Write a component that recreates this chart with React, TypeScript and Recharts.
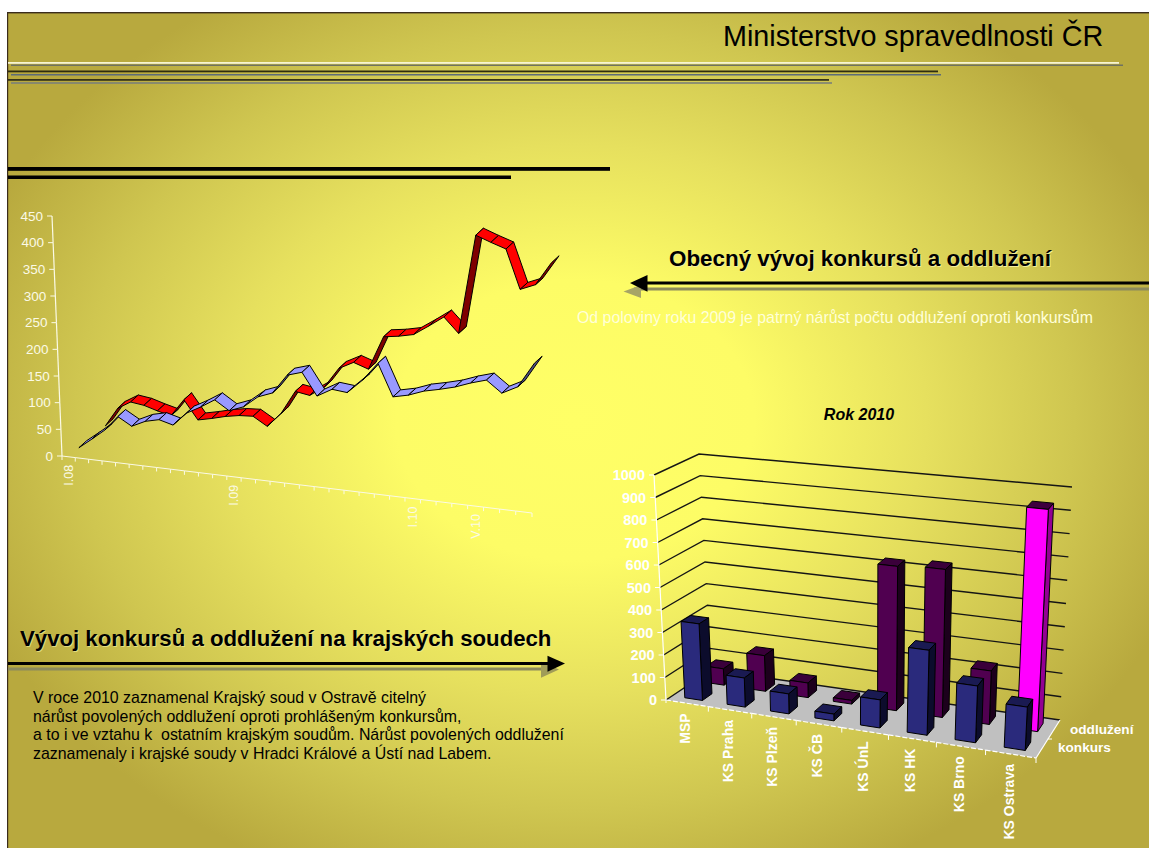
import { BarChart, Bar, Cell, LineChart, Line, XAxis, YAxis, CartesianGrid } from "recharts";

const months = [
  "I.08", "II.08", "III.08", "IV.08", "V.08", "VI.08", "VII.08", "VIII.08", "IX.08", "X.08", "XI.08", "XII.08",
  "I.09", "II.09", "III.09", "IV.09", "V.09", "VI.09", "VII.09", "VIII.09", "IX.09", "X.09", "XI.09", "XII.09",
  "I.10", "II.10", "III.10", "IV.10", "V.10", "VI.10", "VII.10", "VIII.10",
];
const shownMonths = ["I.08", "I.09", "I.10", "V.10"];
const konkursMonthly = [
  2, 21, 41, 69, 54, 66, 72, 65, 90, 104, 120, 103, 113, 134, 144, 179,
  187, 147, 162, 159, 184, 217, 160, 166, 176, 182, 189, 199, 207, 187, 201, 245,
];
const oddluzeniMonthly = [
  2, 38, 53, 50, 43, 37, 70, 36, 42, 49, 54, 56, 41, 68, 111, 107,
  125, 162, 176, 167, 228, 232, 238, 256, 275, 249, 425, 415, 406, 338, 349, 390,
];
const lineTicks = [0, 50, 100, 150, 200, 250, 300, 350, 400, 450];

const courts = ["MSP", "KS Praha", "KS Plzeň", "KS ČB", "KS ÚnL", "KS HK", "KS Brno", "KS Ostrava"];
const konkurs2010 = [340, 128, 87, 29, 120, 360, 238, 180];
const oddluzeni2010 = [74, 160, 65, 16, 630, 640, 229, 942];
const barTicks = [0, 100, 200, 300, 400, 500, 600, 700, 800, 900, 1000];

const monthlyData = months.map((month, i) => ({
  month,
  konkurs: konkursMonthly[i],
  oddluzeni: oddluzeniMonthly[i],
}));
const courtData = courts.map((court, i) => ({
  court,
  konkurs: konkurs2010[i],
  oddluzeni: oddluzeni2010[i],
}));

const FONT = "'Liberation Sans', Arial, sans-serif";
const CREAM = "#FBFAE6";

type Pt = [number, number];
const mix = (a: Pt, b: Pt, t: number): Pt => [a[0] + (b[0] - a[0]) * t, a[1] + (b[1] - a[1]) * t];
const warp = (u: number, a: number) => (a * u) / (1 - (1 - a) * u);
const pts = (list: Pt[]) => list.map((p) => `${p[0]},${p[1]}`).join(" ");

// left chart: flat plot area leaned into the slide
const L = { left: 62, right: 532, top: 216, bottom: 456 };
const planeAt = (x: number, y: number): Pt => {
  const u = warp((x - L.left) / (L.right - L.left), 0.9);
  const w = (L.bottom - y) / (L.bottom - L.top);
  return mix(mix([62, 456], [532, 513], u), mix([52, 216], [541, 254], u), w);
};
const RIBBON: Pt = [7.7, -7];
// the ribbons sit deeper in the box, so they spread less than the axis at the far end
const farEnd = (u: number) => Math.max(u - 0.6, 0) ** 2;

function makeRibbon(light: string, dark: string, shift: (u: number) => Pt) {
  return function RibbonDot(props: any) {
    const { cx, cy, index, points } = props;
    const next = points && points[index + 1];
    if (!next) return <g key={index} />;
    const place = (x: number, y: number): Pt => {
      const p = planeAt(x, y);
      const s = shift((x - L.left) / (L.right - L.left));
      return [p[0] + s[0], p[1] + s[1]];
    };
    const a = place(cx, cy);
    const b = place(next.x, next.y);
    const cross = (b[0] - a[0]) * RIBBON[1] - (b[1] - a[1]) * RIBBON[0];
    return (
      <polygon
        key={index}
        points={pts([a, b, [b[0] + RIBBON[0], b[1] + RIBBON[1]], [a[0] + RIBBON[0], a[1] + RIBBON[1]]])}
        fill={cross > 0 ? dark : light}
        stroke="#000"
        strokeWidth={1}
        strokeLinejoin="round"
      />
    );
  };
}
const blueRibbon = makeRibbon("#9999FF", "#4D4D80", (u) => [10.3 - 30 * farEnd(u), -8]);
const redRibbon = makeRibbon("#FF0000", "#7F0000", (u) => [37 - 9 * u - 55 * farEnd(u), -30 + 5 * u]);

function LineXTick(props: any) {
  const { x, payload, index } = props;
  const band = (L.right - L.left) / months.length;
  const x0 = x - band / 2;
  const a = planeAt(x0, L.bottom);
  const b = planeAt(x0 + band, L.bottom);
  const c = planeAt(x, L.bottom);
  return (
    <g>
      <line x1={a[0]} y1={a[1]} x2={b[0]} y2={b[1]} stroke={CREAM} />
      <line x1={a[0]} y1={a[1]} x2={a[0]} y2={a[1] + 4} stroke={CREAM} />
      {index === months.length - 1 && <line x1={b[0]} y1={b[1]} x2={b[0]} y2={b[1] + 4} stroke={CREAM} />}
      {shownMonths.includes(payload.value) && (
        <text
          x={c[0]}
          y={c[1] + 8}
          transform={`rotate(-90 ${c[0]} ${c[1] + 8})`}
          textAnchor="end"
          dominantBaseline="central"
          fontSize={12.5}
          fontFamily={FONT}
          fill={CREAM}
        >
          {payload.value}
        </text>
      )}
    </g>
  );
}

function LineYTick(props: any) {
  const { y, payload } = props;
  const step = (L.bottom - L.top) / (lineTicks.length - 1);
  const a = planeAt(L.left, y);
  const b = planeAt(L.left, y - step);
  return (
    <g>
      {payload.value < 450 && <line x1={a[0]} y1={a[1]} x2={b[0]} y2={b[1]} stroke={CREAM} strokeWidth={1.2} />}
      <line x1={a[0] - 5} y1={a[1]} x2={a[0]} y2={a[1]} stroke={CREAM} />
      <text
        x={a[0] - 9}
        y={a[1]}
        textAnchor="end"
        dominantBaseline="central"
        fontSize={13.5}
        fontFamily={FONT}
        fill={CREAM}
      >
        {payload.value}
      </text>
    </g>
  );
}

// right chart: the plot rectangle becomes a 3D box
const R = { left: 660, right: 1060, top: 480, bottom: 700 };
const BAR = 21;
const cornerFront = { b0: [666, 700] as Pt, t0: [654, 475] as Pt, b1: [1036, 758] as Pt, t1: [1049, 515] as Pt };
const cornerBack = { b0: [711, 670] as Pt, t0: [699, 454] as Pt, b1: [1060, 720] as Pt, t1: [1072, 487] as Pt };
const boxAt = (u: number, v: number, w: number): Pt => {
  const t = warp(u, 0.905);
  const front = mix(mix(cornerFront.b0, cornerFront.b1, t), mix(cornerFront.t0, cornerFront.t1, t), w);
  const back = mix(mix(cornerBack.b0, cornerBack.b1, t), mix(cornerBack.t0, cornerBack.t1, t), w);
  return mix(front, back, v);
};
const toU = (x: number) => (x - R.left) / (R.right - R.left);
const toW = (y: number) => (R.bottom - y) / (R.bottom - R.top);

function makeColumn(v0: number, v1: number) {
  return function Column(props: any) {
    const { x, y, width, fill } = props;
    const u0 = toU(x);
    const u1 = toU(x + width);
    const w = toW(y);
    const shades: Record<string, [string, string]> = {
      "#2A2A7C": ["#1A1A52", "#0C0C2C"],
      "#500050": ["#3A003A", "#1C001C"],
      "#FF00FF": ["#3E003E", "#930093"],
    };
    const [top, side] = shades[fill] || [fill, fill];
    const edge = { stroke: "#000", strokeWidth: 1, strokeLinejoin: "round" as const };
    return (
      <g>
        <polygon points={pts([boxAt(u0, v0, w), boxAt(u1, v0, w), boxAt(u1, v1, w), boxAt(u0, v1, w)])} fill={top} {...edge} />
        <polygon points={pts([boxAt(u1, v0, 0), boxAt(u1, v1, 0), boxAt(u1, v1, w), boxAt(u1, v0, w)])} fill={side} {...edge} />
        <polygon points={pts([boxAt(u0, v0, 0), boxAt(u1, v0, 0), boxAt(u1, v0, w), boxAt(u0, v0, w)])} fill={fill} {...edge} />
      </g>
    );
  };
}

function WallLine(props: any) {
  const w = toW(props.y1);
  const isFloor = Math.abs(w) < 0.001;
  return (
    <g key={props.key ?? props.index}>
      {isFloor && (
        <polygon points={pts([boxAt(0, 0, 0), boxAt(0, 1, 0), boxAt(1, 1, 0), boxAt(1, 0, 0)])} fill="#C0C0C0" />
      )}
      <polyline points={pts([boxAt(0, 0, w), boxAt(0, 1, w), boxAt(1, 1, w)])} fill="none" stroke="#151515" strokeWidth={1.4} />
      {isFloor && (
        <>
          <line x1={boxAt(1, 0, 0)[0]} y1={boxAt(1, 0, 0)[1]} x2={boxAt(1, 1, 0)[0]} y2={boxAt(1, 1, 0)[1]} stroke="#fff" strokeWidth={1.2} />
          <line x1={boxAt(1, 0.5, 0)[0]} y1={boxAt(1, 0.5, 0)[1]} x2={boxAt(1, 0.5, 0)[0] + 4} y2={boxAt(1, 0.5, 0)[1]} stroke="#fff" />
        </>
      )}
    </g>
  );
}

function BarXTick(props: any) {
  const { x, payload, index } = props;
  const band = (R.right - R.left) / courts.length;
  const a = boxAt(toU(x - band / 2), 0, 0);
  const b = boxAt(toU(x + band / 2), 0, 0);
  const c = boxAt(toU(x), 0, 0);
  return (
    <g>
      <line x1={a[0]} y1={a[1]} x2={b[0]} y2={b[1]} stroke="#fff" strokeWidth={1.2} strokeDasharray="5 2" />
      <line x1={b[0]} y1={b[1]} x2={b[0]} y2={b[1] + 5} stroke="#fff" />
      {index === 0 && <line x1={a[0]} y1={a[1]} x2={a[0]} y2={a[1] + 3} stroke="#fff" />}
      <text
        x={c[0] - 2}
        y={c[1] + 10}
        transform={`rotate(-90 ${c[0] - 2} ${c[1] + 10})`}
        textAnchor="end"
        dominantBaseline="central"
        fontSize={14}
        fontWeight="bold"
        fontFamily={FONT}
        fill="#fff"
      >
        {payload.value}
      </text>
    </g>
  );
}

function BarYTick(props: any) {
  const { y, payload } = props;
  const w = toW(y);
  const a = boxAt(0, 0, w);
  const b = boxAt(0, 0, w + 0.1);
  return (
    <g>
      {payload.value < 1000 && <line x1={a[0]} y1={a[1]} x2={b[0]} y2={b[1]} stroke="#fff" strokeWidth={1.2} />}
      <line x1={a[0] - 5} y1={a[1]} x2={a[0]} y2={a[1]} stroke="#fff" />
      <text
        x={a[0] - 9}
        y={a[1]}
        textAnchor="end"
        dominantBaseline="central"
        fontSize={14.5}
        fontWeight="bold"
        fontFamily={FONT}
        fill="#fff"
      >
        {payload.value}
      </text>
    </g>
  );
}

function Slide() {
  const t = { fontFamily: FONT };
  return (
    <svg width={1149} height={848} style={{ position: "absolute", left: 0, top: 0 }}>
      <rect x={7} y={12} width={1142} height={1.4} fill="#3A2C1C" />
      <rect x={7} y={12} width={1.2} height={836} fill="#3A2C1C" />

      <text x={723} y={46} fontSize={28.75} fill="#000" {...t}>Ministerstvo spravedlnosti ČR</text>

      <rect x={11} y={64.5} width={1112} height={1.5} fill="#6F7260" />
      <rect x={8} y={62} width={1111} height={1.8} fill="#F7F4D2" />
      <rect x={11} y={74} width={930} height={1.5} fill="#5D6C78" />
      <rect x={8} y={70.5} width={930} height={1.8} fill="#2E2C10" />
      <rect x={11} y={82.2} width={821} height={1.6} fill="#7C8078" />
      <rect x={8} y={79} width={821} height={1.8} fill="#35331A" />

      <rect x={8} y={167} width={602} height={3.8} fill="#000" />
      <rect x={8} y={175.5} width={503} height={3.5} fill="#000" />

      <rect x={634} y={287.5} width={515} height={3} fill="#8C8A5C" />
      <polygon points="623.5,291.5 641,285 641,298" fill="#A7A566" />
      <rect x={645} y={281.5} width={504} height={3} fill="#000" />
      <polygon points="630,283 647.5,275 647.5,291.7" fill="#000" />
      <text x={670} y={267.2} fontSize={22.4} fontWeight="bold" fill="#F4EE9E" {...t}>Obecný vývoj konkursů a oddlužení</text>
      <text x={669} y={266} fontSize={22.4} fontWeight="bold" fill="#000" {...t}>Obecný vývoj konkursů a oddlužení</text>
      <text x={577} y={322.5} fontSize={15.9} fill="#FFFFD8" {...t}>Od poloviny roku 2009 je patrný nárůst počtu oddlužení oproti konkursům</text>

      <text x={859} y={420} textAnchor="middle" fontSize={16} fontWeight="bold" fontStyle="italic" fill="#000" {...t}>Rok 2010</text>

      <rect x={8} y={667.5} width={535} height={3} fill="#8C8A5C" />
      <polygon points="559,669.5 541,661.7 541,677.7" fill="#A09C58" />
      <rect x={8} y={662} width={540} height={3} fill="#000" />
      <polygon points="565,663.5 547.5,655.7 547.5,671.7" fill="#000" />
      <text x={21} y={647} fontSize={22.2} fontWeight="bold" fill="#EFEA9A" opacity={0.7} {...t}>Vývoj konkursů a oddlužení na krajských soudech</text>
      <text x={20} y={646} fontSize={22.2} fontWeight="bold" fill="#000" {...t}>Vývoj konkursů a oddlužení na krajských soudech</text>

      <g fontSize={15.9} fill="#000" {...t}>
        <text x={33} y={702.5}>V roce 2010 zaznamenal Krajský soud v Ostravě citelný</text>
        <text x={33} y={721.5}>nárůst povolených oddlužení oproti prohlášeným konkursům,</text>
        <text x={33} y={740}>a to i ve vztahu k&#160; ostatním krajským soudům. Nárůst povolených oddlužení</text>
        <text x={33} y={759}>zaznamenaly i krajské soudy v Hradci Králové a Ústí nad Labem.</text>
      </g>

      <text x={1070} y={734} fontSize={13.6} fontWeight="bold" fill="#fff" {...t}>oddlužení</text>
      <text x={1058} y={751.7} fontSize={13.6} fontWeight="bold" fill="#fff" {...t}>konkurs</text>
    </svg>
  );
}

export default function App() {
  return (
    <div
      style={{
        position: "absolute",
        left: 0,
        top: 0,
        width: 1149,
        height: 848,
        overflow: "hidden",
        background: "#fff",
      }}
    >
      <div
        style={{
          position: "absolute",
          left: 7,
          top: 12,
          width: 1142,
          height: 836,
          background:
            "radial-gradient(ellipse 640px 500px at 568px 408px, #FFFF66 0%, #FDFC66 28%, #E6E05E 55%, #CFC650 78%, #B8A93E 100%)",
        }}
      />
      <Slide />

      <div style={{ position: "absolute", left: 0, top: 0 }}>
        <LineChart
          width={600}
          height={560}
          data={monthlyData}
          margin={{ left: L.left - 40, right: 600 - L.right, top: L.top, bottom: 560 - L.bottom - 40 }}
        >
          <XAxis dataKey="month" scale="band" height={40} interval={0} axisLine={false} tickLine={false} tick={LineXTick} />
          <YAxis width={40} domain={[0, 450]} ticks={lineTicks} interval={0} axisLine={false} tickLine={false} tick={LineYTick} />
          <Line dataKey="oddluzeni" stroke="none" dot={redRibbon} activeDot={false} isAnimationActive={false} />
          <Line dataKey="konkurs" stroke="none" dot={blueRibbon} activeDot={false} isAnimationActive={false} />
        </LineChart>
      </div>

      <div style={{ position: "absolute", left: 0, top: 0 }}>
        <BarChart
          width={1149}
          height={848}
          data={courtData}
          barSize={BAR}
          barGap={-BAR}
          margin={{ left: R.left - 60, right: 1149 - R.right, top: R.top, bottom: 848 - R.bottom - 30 }}
        >
          <CartesianGrid vertical={false} horizontal={WallLine} />
          <XAxis dataKey="court" height={30} interval={0} axisLine={false} tickLine={false} tick={BarXTick} />
          <YAxis width={60} domain={[0, 1000]} ticks={barTicks} interval={0} axisLine={false} tickLine={false} tick={BarYTick} />
          <Bar dataKey="oddluzeni" fill="#500050" shape={makeColumn(0.64, 0.86)} isAnimationActive={false}>
            {courts.map((court) => (
              <Cell key={court} fill={court === "KS Ostrava" ? "#FF00FF" : "#500050"} />
            ))}
          </Bar>
          <Bar dataKey="konkurs" fill="#2A2A7C" shape={makeColumn(0.14, 0.36)} isAnimationActive={false} />
        </BarChart>
      </div>
    </div>
  );
}
